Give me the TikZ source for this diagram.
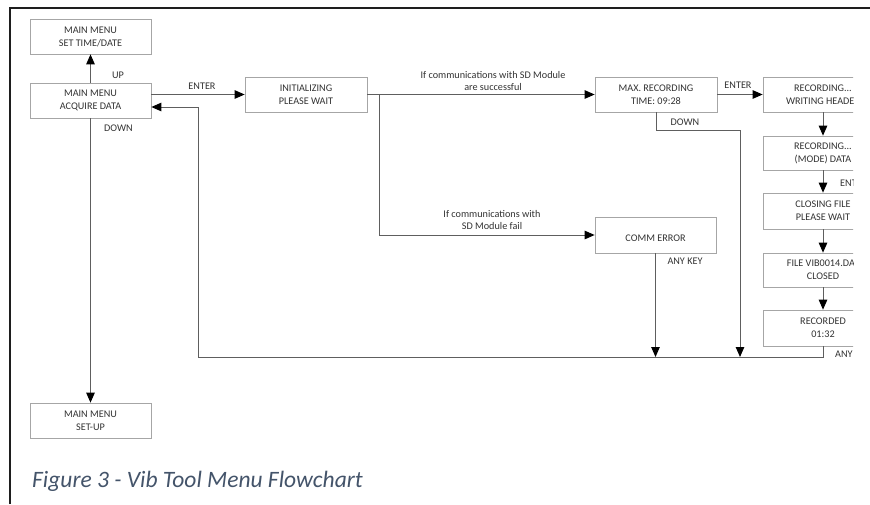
\documentclass[tikz,border=0pt]{standalone}
\usepackage{fontspec}
\setmainfont{Carlito}
\usetikzlibrary{arrows.meta}
\definecolor{boxline}{HTML}{A6A6A6}
\definecolor{wire}{HTML}{5E5E5E}
\definecolor{ink}{HTML}{333333}
\definecolor{captionblue}{HTML}{44546A}
\definecolor{frame}{HTML}{1E1E1E}
\tikzset{
  menubox/.style={draw=boxline, line width=0.7pt, fill=white, text=ink,
    minimum width=121pt, minimum height=35pt, inner sep=0pt, align=center,
    font=\fontsize{10.2}{13}\selectfont},
  wirelabel/.style={text=ink, inner sep=0pt, align=center,
    font=\fontsize{10.2}{12}\selectfont},
  wire/.style={draw=wire, line width=1pt},
  flow/.style={wire, -{Triangle[length=10pt,width=8.5pt,color=black]}},
}
\begin{document}
\begin{tikzpicture}[x=1pt, y=-1pt]
\useasboundingbox (0,0) rectangle (870,504);
\fill[white] (0,0) rectangle (870,504);

% page frame
\draw[frame, line width=2.2pt] (10,504) -- (10,8) -- (870,8);

\begin{scope}
\clip (0,0) rectangle (853,504);

% menu screens, left column
\node[menubox] (setdate) at (90.5,36.5) {MAIN MENU\\SET TIME/DATE};
\node[menubox] (acquire) at (90.5,100.5) {MAIN MENU\\ACQUIRE DATA};
\node[menubox] (setup)   at (90.5,420.5) {MAIN MENU\\SET-UP};

% start-up and error screens
\node[menubox, minimum width=122pt] (init)   at (306,94.5) {INITIALIZING\\PLEASE WAIT};
\node[menubox, minimum width=122pt] (maxrec) at (656,94.5) {MAX. RECORDING\\TIME: 09:28};
\node[menubox, minimum height=36pt] (comm)   at (655.5,235) {\mbox{}\\COMM ERROR};

% recording sequence, right column
\node[menubox, minimum width=120pt] (header)  at (823,94.5) {RECORDING...\\WRITING HEADER};
\node[menubox, minimum width=120pt, minimum height=34pt] (mode)    at (823,153) {RECORDING...\\(MODE) DATA};
\node[menubox, minimum width=120pt, minimum height=36pt] (closing) at (823,211) {CLOSING FILE\\PLEASE WAIT};
\node[menubox, minimum width=120pt, minimum height=34pt] (fileclosed) at (823,270) {FILE VIB0014.DAT\\CLOSED};
\node[menubox, minimum width=120pt, minimum height=36pt] (recorded) at (823,328) {RECORDED\\01:32};

% routing points
\coordinate (branch) at (379,94.5);
\coordinate (downbend) at (740,130);
\coordinate (busleft) at (198,357);
\coordinate (returnup) at (198,107);

% connectors
\draw[flow] (acquire.north) -- (setdate.south);
\draw[flow] (acquire.south) -- (setup.north);
\draw[flow] (acquire.east |- init.west) -- (init.west);
\draw[flow] (init.east) -- (maxrec.west);
\draw[flow] (branch) |- (comm.west);
\draw[flow] (maxrec.east) -- (header.west);
\draw[flow] (maxrec.south) |- (downbend) -- (downbend |- busleft);
\draw[flow] (comm.south) -- (comm.south |- busleft);
\draw[flow] (header) -- (mode);
\draw[flow] (mode) -- (closing);
\draw[flow] (closing) -- (fileclosed);
\draw[flow] (fileclosed) -- (recorded);
\draw[flow] (recorded.south) |- (busleft) -- (returnup) -- (acquire.east |- returnup);

% key labels
\node[wirelabel] (lup)    at (118,75)  {UP};
\node[wirelabel] (ldown)  at (118.5,128) {DOWN};
\node[wirelabel] (lenter) at (202,86)  {ENTER};
\node[wirelabel] (lok)    at (493,80.5) {If communications with SD Module\\are successful};
\node[wirelabel] (lfail)  at (492,220) {If communications with\\SD Module fail};
\node[wirelabel] (lenter2) at (738,85) {ENTER};
\node[wirelabel] (ldown2) at (685,122) {DOWN};
\node[wirelabel] (lany)   at (685,261) {ANY KEY};
\node[wirelabel, anchor=west] (lenter3) at (840,183) {ENTER};
\node[wirelabel, anchor=west] (lany2)   at (835,354) {ANY KEY};
\end{scope}

% caption
\node[anchor=base west, inner sep=0pt, text=captionblue,
  font=\fontsize{23.5}{28}\selectfont\itshape] (caption) at (32,487)
  {Figure 3 - Vib Tool Menu Flowchart};
\end{tikzpicture}
\end{document}
